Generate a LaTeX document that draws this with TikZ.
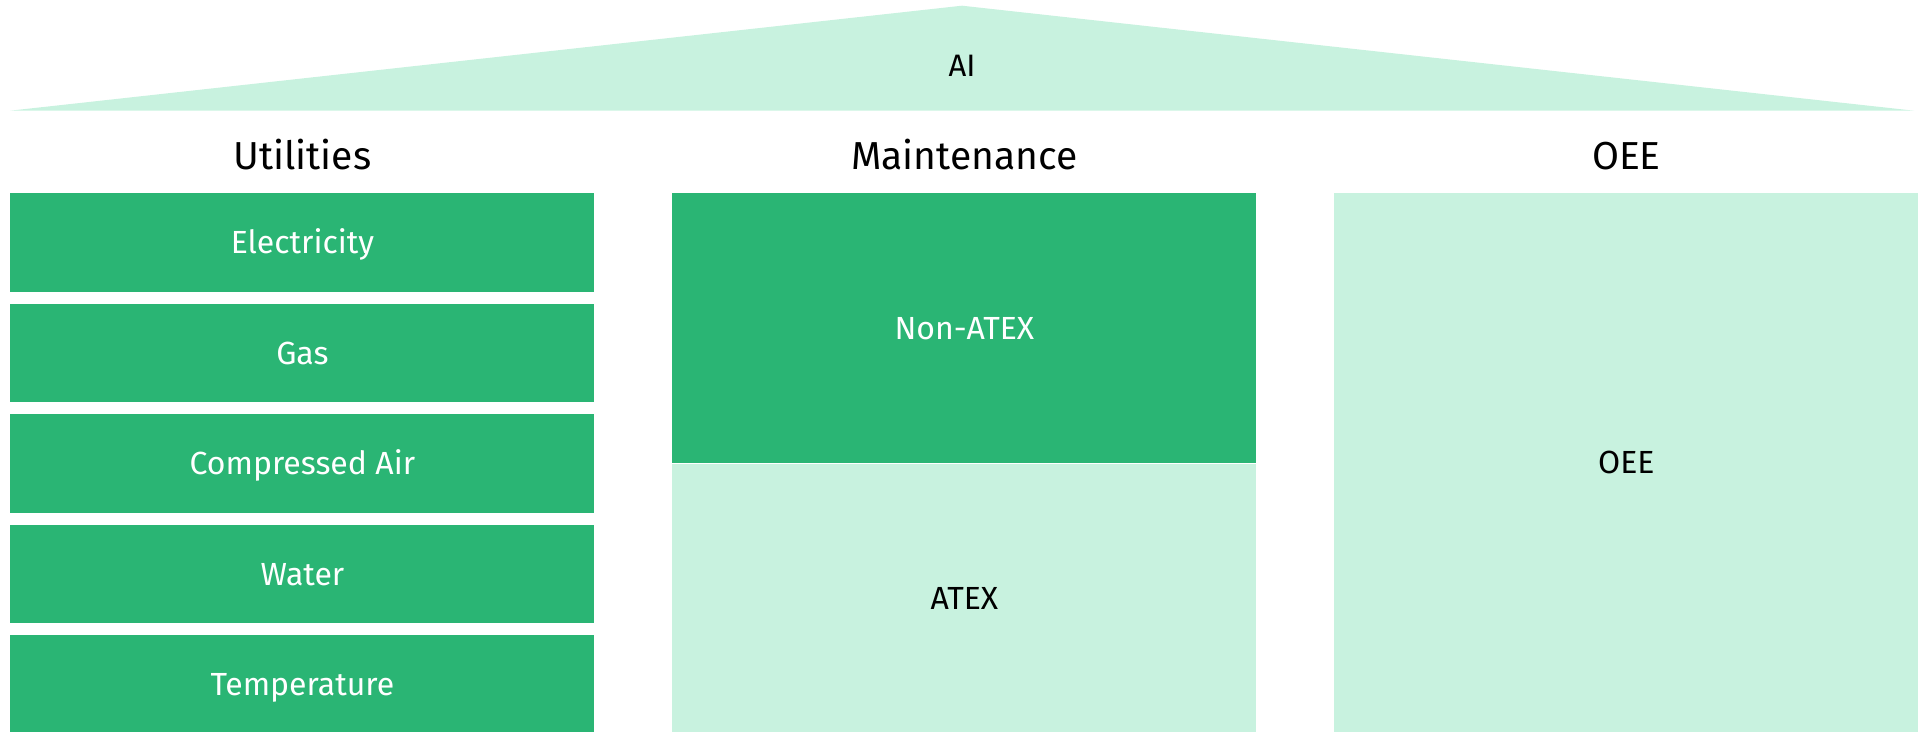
\documentclass[tikz,border=0pt]{standalone}
\usepackage{fontspec}
\setmainfont{Fira Sans}
\usetikzlibrary{positioning}
\definecolor{darkgreen}{RGB}{42,181,116}
\definecolor{lightgreen}{RGB}{200,242,223}

\begin{document}
\begin{tikzpicture}[x=0.5pt,y=-0.5pt]

\tikzset{cell/.style = {anchor=north west, inner sep=0pt, minimum width=292pt, font=\fontsize{16}{19}\selectfont, text height=11pt, text depth=0pt}}
\tikzset{darkcell/.style = {cell, fill=darkgreen, text=white}}
\tikzset{palecell/.style = {cell, fill=lightgreen, text=black}}
\tikzset{heading/.style = {inner sep=0pt, font=\fontsize{19.5}{23}\selectfont, text height=13.4pt, text depth=0pt}}

\useasboundingbox (0,0) rectangle (1929,732);

% roof
\fill[lightgreen] (10,110.7) -- (962,5.7) -- (1914,110.7) -- cycle;
\node[heading, font=\fontsize{15.5}{18}\selectfont, text height=10.7pt] (ai) at (962,66) {AI};

% utilities column
\foreach \y/\name/\label in {193/elec/Electricity, 303.5/gas/Gas, 414/air/Compressed Air, 524.5/water/Water, 635/temp/Temperature}
\node[darkcell, minimum height=49.25pt] (\name) at (10,\y) {\label};

% maintenance column
\node[darkcell, minimum height=134.8pt] (nonatex) at (672,193) {Non-ATEX};
\node[palecell, minimum height=134.7pt, below=0pt of nonatex] (atex) {ATEX};

% oee column
\node[palecell, minimum height=269.5pt] (oee) at (1334,193) {OEE};

\node[heading, above=11.5pt of elec] (utilities) {Utilities};
\node[heading, above=11.5pt of nonatex] (maintenance) {Maintenance};
\node[heading, above=11.5pt of oee] (oeehead) {OEE};
\end{tikzpicture}
\end{document}
